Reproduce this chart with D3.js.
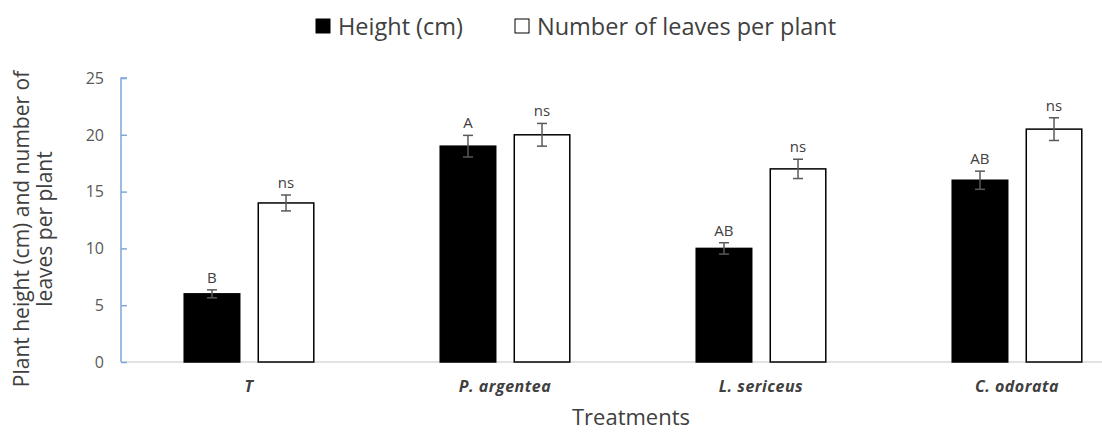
<!DOCTYPE html>
<html>
<head>
<meta charset="utf-8">
<script src="https://cdn.jsdelivr.net/npm/d3@7"></script>
<style>
  html, body { margin: 0; padding: 0; background: #fff; }
  svg { display: block; font-family: "Open Sans", Carlito, Calibri, sans-serif; }
</style>
</head>
<body>
<svg id="chart" width="1102" height="432"></svg>
<script>
// Treatments and the two measured traits
const treatments = ["T", "P. argentea", "L. sericeus", "C. odorata"];
const seriesNames = ["Height (cm)", "Number of leaves per plant"];
const heightValues = [6, 19, 10, 16];
const heightErrors = [0.35, 0.95, 0.5, 0.8];
const heightLetters = ["B", "A", "AB", "AB"];
const leafValues = [14, 20, 17, 20.5];
const leafErrors = [0.7, 1.0, 0.85, 1.0];
const leafLetters = ["ns", "ns", "ns", "ns"];
const yTicks = [0, 5, 10, 15, 20, 25];

const seriesFill = ["#000000", "#ffffff"];

const rows = treatments.map((t, i) => ({
  treatment: t,
  bars: [
    { series: seriesNames[0], value: heightValues[i], err: heightErrors[i], label: heightLetters[i] },
    { series: seriesNames[1], value: leafValues[i], err: leafErrors[i], label: leafLetters[i] }
  ]
}));

const svg = d3.select("#chart");
const plotTop = 78, plotBottom = 362, plotLeft = 121;

const y = d3.scaleLinear().domain([0, 25]).range([plotBottom, plotTop]);
const x0 = d3.scaleBand().domain(treatments).range([plotLeft, 1145])
  .paddingInner(0.488).paddingOuter(0.244);
const x1 = d3.scaleBand().domain(seriesNames).range([0, x0.bandwidth()]).paddingInner(0.23);

// baseline
svg.append("line")
  .attr("x1", plotLeft).attr("x2", 1102)
  .attr("y1", y(0)).attr("y2", y(0))
  .attr("stroke", "#d9d9d9").attr("stroke-width", 1.5);

// y axis: blue spine with inward ticks
const yAxis = d3.axisRight(y).tickValues(yTicks).tickSize(6).tickFormat("");
const yg = svg.append("g").attr("transform", `translate(${plotLeft},0)`).call(yAxis);
yg.select(".domain").attr("stroke", "#7fa7d9").attr("stroke-width", 1.5)
  .attr("d", `M6,${y(25)}H0V${y(0)}`);
yg.selectAll(".tick line").attr("stroke", "#7fa7d9").attr("stroke-width", 1.5);

svg.append("g").selectAll("text").data(yTicks).join("text")
  .attr("x", 104).attr("y", d => y(d)).attr("dy", "0.36em")
  .attr("text-anchor", "end").attr("font-size", 16).attr("fill", "#595959")
  .text(d => d);

// bars
const groups = svg.append("g").selectAll("g").data(rows).join("g")
  .attr("transform", d => `translate(${x0(d.treatment)},0)`);

groups.selectAll("rect").data(d => d.bars).join("rect")
  .attr("x", d => x1(d.series) + 0.75)
  .attr("width", x1.bandwidth() - 1.5)
  .attr("y", d => y(d.value))
  .attr("height", d => y(0) - y(d.value))
  .attr("fill", (d, i) => seriesFill[i])
  .attr("stroke", "#000").attr("stroke-width", 1.5);

// error bars
const cx = d => x1(d.series) + x1.bandwidth() / 2;
const eb = groups.selectAll("g.err").data(d => d.bars).join("g").attr("class", "err")
  .attr("stroke", "#595959").attr("stroke-width", 1.5);
eb.append("line")
  .attr("x1", cx).attr("x2", cx)
  .attr("y1", d => y(d.value + d.err)).attr("y2", d => y(d.value - d.err));
eb.append("line")
  .attr("x1", d => cx(d) - 5).attr("x2", d => cx(d) + 5)
  .attr("y1", d => y(d.value + d.err)).attr("y2", d => y(d.value + d.err));
eb.append("line")
  .attr("x1", d => cx(d) - 5).attr("x2", d => cx(d) + 5)
  .attr("y1", d => y(d.value - d.err)).attr("y2", d => y(d.value - d.err));

// significance letters
groups.selectAll("text.sig").data(d => d.bars).join("text").attr("class", "sig")
  .attr("x", cx)
  .attr("y", d => y(d.value + d.err) - 7)
  .attr("text-anchor", "middle").attr("font-size", 15).attr("fill", "#404040")
  .text(d => d.label);

// category labels
svg.append("g").selectAll("text").data(treatments).join("text")
  .attr("x", d => x0(d) + x0.bandwidth() / 2).attr("y", 392)
  .attr("text-anchor", "middle").attr("font-size", 16).attr("letter-spacing", 0.5)
  .attr("font-style", "italic").attr("font-weight", "bold").attr("fill", "#404040")
  .text(d => d);

// axis titles
svg.append("text")
  .attr("x", 631).attr("y", 425)
  .attr("text-anchor", "middle").attr("font-size", 22).attr("fill", "#404040")
  .text("Treatments");

const yTitle = svg.append("text")
  .attr("transform", "translate(0,229) rotate(-90)")
  .attr("text-anchor", "middle").attr("font-size", 21).attr("fill", "#404040");
yTitle.append("tspan").attr("x", 0).attr("y", 29).text("Plant height (cm) and number of");
yTitle.append("tspan").attr("x", 0).attr("y", 52).text("leaves per plant");

// legend
const legendX = [316, 515];
const legend = svg.append("g").selectAll("g").data(seriesNames).join("g")
  .attr("transform", (d, i) => `translate(${legendX[i]},19)`);
legend.append("rect")
  .attr("width", 14).attr("height", 14)
  .attr("fill", (d, i) => seriesFill[i])
  .attr("stroke", "#000").attr("stroke-width", 1);
legend.append("text")
  .attr("x", 22).attr("y", 16)
  .attr("font-size", 23.5).attr("fill", "#404040")
  .text(d => d);
</script>
</body>
</html>
